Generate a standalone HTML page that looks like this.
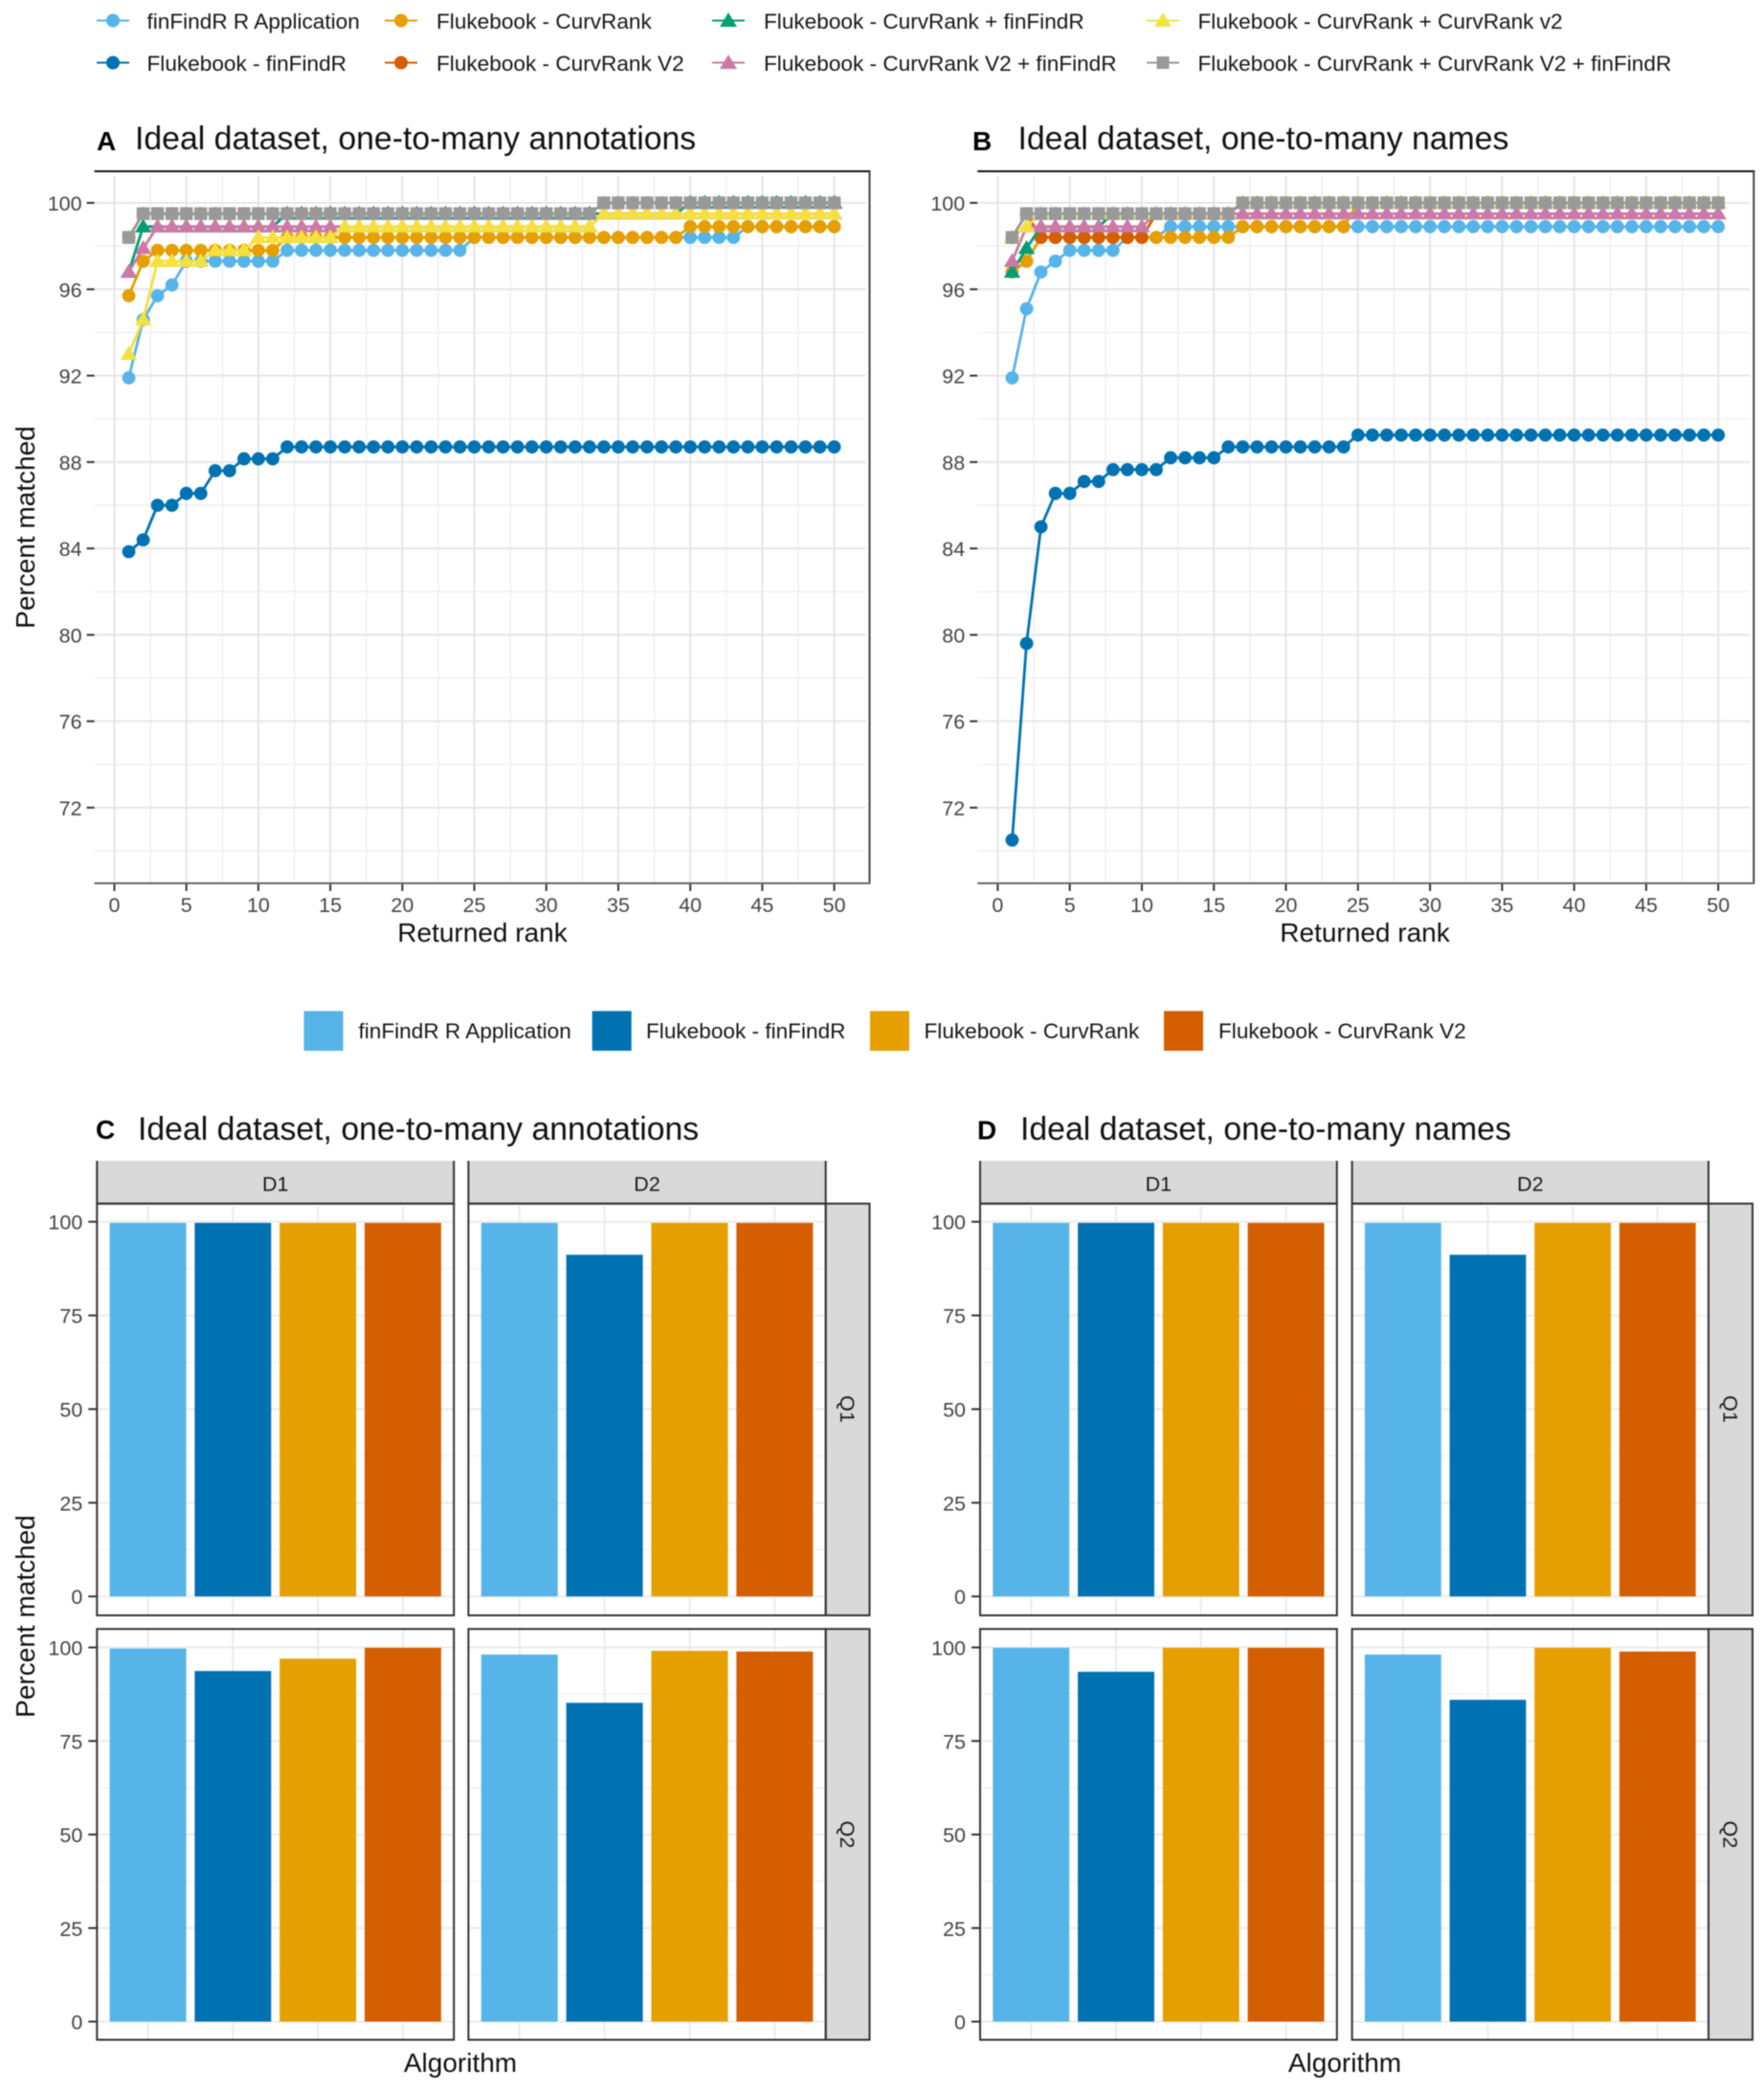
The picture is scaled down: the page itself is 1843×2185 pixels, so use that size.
<!DOCTYPE html>
<html lang="en">
<head>
<meta charset="utf-8">
<title>Ideal dataset match rates</title>
<style>
html,body{margin:0;padding:0;background:#fff;width:1843px;height:2185px;overflow:hidden}
svg{display:block;font-family:"Liberation Sans",sans-serif;filter:blur(0.45px)}
.lg{font-size:22.6px;fill:#161616}
.ttl{font-size:33.8px;fill:#111}
.tag{font-size:28px;font-weight:bold;fill:#000}
.axt{font-size:28px;fill:#111}
.tk{font-size:21.5px;fill:#444}
.st{font-size:21.5px;fill:#1a1a1a;text-anchor:middle}
</style>
</head>
<body>
<svg id="fig" xmlns="http://www.w3.org/2000/svg" width="1843" height="2185" viewBox="0 0 1843 2185">
<rect x="0" y="0" width="1843" height="2185" fill="#fff"/>
<g id="layerA"></g>
<g id="layerB"></g>
<g id="layerC"></g>
<g id="layerD"></g>

<g>
 <g>
  <line x1="101" x2="135" y1="21.5" y2="21.5" stroke="#56B4E9" stroke-width="2"/><circle cx="118" cy="21.5" r="7" fill="#56B4E9"/>
  <text class="lg" x="153.5" y="30">finFindR R Application</text></g>
 <g>
  <line x1="101" x2="135" y1="65.5" y2="65.5" stroke="#0072B2" stroke-width="2"/><circle cx="118" cy="65.5" r="7" fill="#0072B2"/>
  <text class="lg" x="153.5" y="74">Flukebook - finFindR</text></g>
 <g>
  <line x1="402" x2="436" y1="21.5" y2="21.5" stroke="#E69F00" stroke-width="2"/><circle cx="419" cy="21.5" r="7" fill="#E69F00"/>
  <text class="lg" x="456" y="30">Flukebook - CurvRank</text></g>
 <g>
  <line x1="402" x2="436" y1="65.5" y2="65.5" stroke="#D55E00" stroke-width="2"/><circle cx="419" cy="65.5" r="7" fill="#D55E00"/>
  <text class="lg" x="456" y="74">Flukebook - CurvRank V2</text></g>
 <g>
  <line x1="744" x2="778" y1="21.5" y2="21.5" stroke="#009E73" stroke-width="2"/><path d="M761 13 L770 28 L752 28 Z" fill="#009E73"/>
  <text class="lg" x="798" y="30">Flukebook - CurvRank + finFindR</text></g>
 <g>
  <line x1="744" x2="778" y1="65.5" y2="65.5" stroke="#CC79A7" stroke-width="2"/><path d="M761 57 L770 72 L752 72 Z" fill="#CC79A7"/>
  <text class="lg" x="798" y="74">Flukebook - CurvRank V2 + finFindR</text></g>
 <g>
  <line x1="1198" x2="1232" y1="21.5" y2="21.5" stroke="#F0E442" stroke-width="2"/><path d="M1215 13 L1224 28 L1206 28 Z" fill="#F0E442"/>
  <text class="lg" x="1251.5" y="30">Flukebook - CurvRank + CurvRank v2</text></g>
 <g>
  <line x1="1198" x2="1232" y1="65.5" y2="65.5" stroke="#999999" stroke-width="2"/><rect x="1208.5" y="59" width="13" height="13" fill="#999999"/>
  <text class="lg" x="1251.5" y="74">Flukebook - CurvRank + CurvRank V2 + finFindR</text></g>
</g>

<text class="tag" x="101" y="157">A</text>
<text class="ttl" x="141" y="156">Ideal dataset, one-to-many annotations</text>
<text class="tag" x="1016" y="157">B</text>
<text class="ttl" x="1063.5" y="156">Ideal dataset, one-to-many names</text>
<text class="tag" x="100" y="1190">C</text>
<text class="ttl" x="144" y="1191">Ideal dataset, one-to-many annotations</text>
<text class="tag" x="1021" y="1190.5">D</text>
<text class="ttl" x="1066" y="1191">Ideal dataset, one-to-many names</text>

<text class="axt" text-anchor="middle" transform="translate(36,551) rotate(-90)">Percent matched</text>
<text class="axt" text-anchor="middle" x="504" y="984">Returned rank</text>
<text class="axt" text-anchor="middle" x="1426" y="984">Returned rank</text>
<text class="axt" text-anchor="middle" transform="translate(36,1689) rotate(-90)">Percent matched</text>
<text class="axt" text-anchor="middle" x="481" y="2165">Algorithm</text>
<text class="axt" text-anchor="middle" x="1405" y="2165">Algorithm</text>

<g>
 <g><rect x="317.5" y="1056.5" width="41" height="41.5" fill="#56B4E9"/><text class="lg" x="374.5" y="1085">finFindR R Application</text></g>
 <g><rect x="618.7" y="1056.5" width="41" height="41.5" fill="#0072B2"/><text class="lg" x="675" y="1085">Flukebook - finFindR</text></g>
 <g><rect x="909" y="1056.5" width="41" height="41.5" fill="#E69F00"/><text class="lg" x="965.5" y="1085">Flukebook - CurvRank</text></g>
 <g><rect x="1216" y="1056.5" width="41" height="41.5" fill="#D55E00"/><text class="lg" x="1273" y="1085">Flukebook - CurvRank V2</text></g>
</g>
</svg>

<script>
/* ---- line chart data: returned rank categories and percent matched ---- */
const xTickLabels = [0,5,10,15,20,25,30,35,40,45,50];
const xMinorTicks = [2.5,7.5,12.5,17.5,22.5,27.5,32.5,37.5,42.5,47.5];
const yTickLabels = [72,76,80,84,88,92,96,100];
const yMinorTicks = [70,74,78,82,86,90,94,98];
const seriesNames = ['finfindr-r-application','flukebook-finfindr','flukebook-curvrank','flukebook-curvrank-v2','curvrank-finfindr','curvrank-v2-finfindr','curvrank-curvrank-v2','all-combined'];
const seriesColors = ['#56B4E9','#0072B2','#E69F00','#D55E00','#009E73','#CC79A7','#F5E03E','#999999'];
const seriesShapes = ['circle','circle','circle','circle','triangle','triangle','triangle','square'];

const appA = [91.9,94.6,95.7,96.2,97.3,97.3,97.3,97.3,97.3,97.3,97.3,97.8,97.8,97.8,97.8,97.8,97.8,97.8,97.8,97.8,97.8,97.8,97.8,97.8,98.4,98.4,98.4,98.4,98.4,98.4,98.4,98.4,98.4,98.4,98.4,98.4,98.4,98.4,98.4,98.4,98.4,98.4,98.4,98.9,98.9,98.9,98.9,98.9,98.9,98.9];
const finA = [83.85,84.4,86,86,86.55,86.55,87.6,87.6,88.15,88.15,88.15,88.7,88.7,88.7,88.7,88.7,88.7,88.7,88.7,88.7,88.7,88.7,88.7,88.7,88.7,88.7,88.7,88.7,88.7,88.7,88.7,88.7,88.7,88.7,88.7,88.7,88.7,88.7,88.7,88.7,88.7,88.7,88.7,88.7,88.7,88.7,88.7,88.7,88.7,88.7];
const crA = [95.7,97.3,97.8,97.8,97.8,97.8,97.8,97.8,97.8,97.8,97.8,98.4,98.4,98.4,98.4,98.4,98.4,98.4,98.4,98.4,98.4,98.4,98.4,98.4,98.4,98.4,98.4,98.4,98.4,98.4,98.4,98.4,98.4,98.4,98.4,98.4,98.4,98.4,98.4,98.9,98.9,98.9,98.9,98.9,98.9,98.9,98.9,98.9,98.9,98.9];
const crv2A = [98.4,99.5,99.5,99.5,99.5,99.5,99.5,99.5,99.5,99.5,99.5,99.5,99.5,99.5,99.5,99.5,99.5,99.5,99.5,99.5,99.5,99.5,99.5,99.5,99.5,99.5,99.5,99.5,99.5,99.5,99.5,99.5,99.5,100,100,100,100,100,100,100,100,100,100,100,100,100,100,100,100,100];
const crFinA = [96.8,98.9,98.9,98.9,98.9,98.9,98.9,98.9,98.9,98.9,98.9,99.5,99.5,99.5,99.5,99.5,99.5,99.5,99.5,99.5,99.5,99.5,99.5,99.5,99.5,99.5,99.5,99.5,99.5,99.5,99.5,99.5,99.5,99.5,99.5,99.5,99.5,99.5,99.5,100,100,100,100,100,100,100,100,100,100,100];
const v2FinA = [96.8,97.9,98.9,98.9,98.9,98.9,98.9,98.9,98.9,98.9,98.9,98.9,98.9,98.9,98.9,98.9,98.9,98.9,98.9,98.9,98.9,98.9,98.9,98.9,98.9,98.9,98.9,98.9,98.9,98.9,98.9,98.9,98.9,99.5,99.5,99.5,99.5,99.5,99.5,99.5,99.5,99.5,99.5,99.5,99.5,99.5,99.5,99.5,99.5,99.5];
const crCrA = [93,94.6,97.3,97.3,97.3,97.3,97.8,97.8,97.8,98.4,98.4,98.4,98.4,98.4,98.4,98.9,98.9,98.9,98.9,98.9,98.9,98.9,98.9,98.9,98.9,98.9,98.9,98.9,98.9,98.9,98.9,98.9,98.9,99.5,99.5,99.5,99.5,99.5,99.5,99.5,99.5,99.5,99.5,99.5,99.5,99.5,99.5,99.5,99.5,99.5];
const allA = [98.4,99.5,99.5,99.5,99.5,99.5,99.5,99.5,99.5,99.5,99.5,99.5,99.5,99.5,99.5,99.5,99.5,99.5,99.5,99.5,99.5,99.5,99.5,99.5,99.5,99.5,99.5,99.5,99.5,99.5,99.5,99.5,99.5,100,100,100,100,100,100,100,100,100,100,100,100,100,100,100,100,100];

const appB = [91.9,95.1,96.8,97.3,97.8,97.8,97.8,97.8,98.4,98.4,98.4,98.9,98.9,98.9,98.9,98.9,98.9,98.9,98.9,98.9,98.9,98.9,98.9,98.9,98.9,98.9,98.9,98.9,98.9,98.9,98.9,98.9,98.9,98.9,98.9,98.9,98.9,98.9,98.9,98.9,98.9,98.9,98.9,98.9,98.9,98.9,98.9,98.9,98.9,98.9];
const finB = [70.5,79.6,85,86.55,86.55,87.1,87.1,87.65,87.65,87.65,87.65,88.2,88.2,88.2,88.2,88.7,88.7,88.7,88.7,88.7,88.7,88.7,88.7,88.7,89.25,89.25,89.25,89.25,89.25,89.25,89.25,89.25,89.25,89.25,89.25,89.25,89.25,89.25,89.25,89.25,89.25,89.25,89.25,89.25,89.25,89.25,89.25,89.25,89.25,89.25];
const crB = [96.8,97.3,98.4,98.4,98.4,98.4,98.4,98.4,98.4,98.4,98.4,98.4,98.4,98.4,98.4,98.4,98.9,98.9,98.9,98.9,98.9,98.9,98.9,98.9,100,100,100,100,100,100,100,100,100,100,100,100,100,100,100,100,100,100,100,100,100,100,100,100,100,100];
const crv2B = [98.4,99.5,98.4,98.4,98.4,98.4,98.4,98.4,98.4,98.4,99.5,99.5,99.5,99.5,99.5,99.5,100,100,100,100,100,100,100,100,100,100,100,100,100,100,100,100,100,100,100,100,100,100,100,100,100,100,100,100,100,100,100,100,100,100];
const crFinB = [96.8,97.9,98.9,98.9,98.9,98.9,98.9,99.5,99.5,99.5,99.5,99.5,99.5,99.5,99.5,99.5,100,100,100,100,100,100,100,100,100,100,100,100,100,100,100,100,100,100,100,100,100,100,100,100,100,100,100,100,100,100,100,100,100,100];
const v2FinB = [97.3,98.9,98.9,98.9,98.9,98.9,98.9,98.9,98.9,98.9,99.5,99.5,99.5,99.5,99.5,99.5,99.5,99.5,99.5,99.5,99.5,99.5,99.5,99.5,99.5,99.5,99.5,99.5,99.5,99.5,99.5,99.5,99.5,99.5,99.5,99.5,99.5,99.5,99.5,99.5,99.5,99.5,99.5,99.5,99.5,99.5,99.5,99.5,99.5,99.5];
const crCrB = [98.4,98.9,99.5,99.5,99.5,99.5,99.5,99.5,99.5,99.5,99.5,99.5,99.5,99.5,99.5,99.5,100,100,100,100,100,100,100,100,100,100,100,100,100,100,100,100,100,100,100,100,100,100,100,100,100,100,100,100,100,100,100,100,100,100];
const allB = [98.4,99.5,99.5,99.5,99.5,99.5,99.5,99.5,99.5,99.5,99.5,99.5,99.5,99.5,99.5,99.5,100,100,100,100,100,100,100,100,100,100,100,100,100,100,100,100,100,100,100,100,100,100,100,100,100,100,100,100,100,100,100,100,100,100];

/* ---- bar chart data ---- */
const algorithms = ['finfindr-r-application','flukebook-finfindr','flukebook-curvrank','flukebook-curvrank-v2'];
const barColors = ['#56B4E9','#0072B2','#E69F00','#D55E00'];
const barTickLabels = [0,25,50,75,100];
const barMinorTicks = [12.5,37.5,62.5,87.5];
const cD1Q1 = [99.7,99.7,99.7,99.7];
const cD2Q1 = [99.7,91.2,99.7,99.7];
const cD1Q2 = [99.7,93.7,97,99.9];
const cD2Q2 = [98.1,85.2,99.1,98.9];
const dD1Q1 = [99.7,99.7,99.7,99.7];
const dD2Q1 = [99.7,91.2,99.7,99.7];
const dD1Q2 = [99.9,93.5,99.9,99.9];
const dD2Q2 = [98.1,86,99.9,98.9];

const NS = 'http://www.w3.org/2000/svg';
function mk(parent, tag, attrs, txt) {
  const el = document.createElementNS(NS, tag);
  for (const k in attrs) el.setAttribute(k, attrs[k]);
  if (txt !== undefined) el.textContent = txt;
  parent.appendChild(el);
  return el;
}

function drawLinePanel(layer, key, left, right, x0, x50, allSeries) {
  const top = 179, bottom = 923;
  const xs = v => x0 + (x50 - x0) * v / 50;
  const ys = v => 212 + (100 - v) * 22.57;
  xMinorTicks.forEach(v => {
    const g = mk(layer, 'line', {x1: xs(v), x2: xs(v), y1: top + 4, y2: bottom, stroke: '#ececec', 'stroke-width': 1.2});
    
    
  });
  yMinorTicks.forEach(v => {
    const g = mk(layer, 'line', {x1: left, x2: right - 4, y1: ys(v), y2: ys(v), stroke: '#ececec', 'stroke-width': 1.2});
    
    
  });
  xTickLabels.forEach(v => {
    const g = mk(layer, 'line', {x1: xs(v), x2: xs(v), y1: top + 4, y2: bottom, stroke: '#e6e6e6', 'stroke-width': 2});
    
    
    const t = mk(layer, 'line', {x1: xs(v), x2: xs(v), y1: bottom, y2: bottom + 8, stroke: '#333', 'stroke-width': 2});
    
    
    const l = mk(layer, 'text', {class: 'tk', x: xs(v), y: 953, 'text-anchor': 'middle'}, String(v));
    
    
  });
  yTickLabels.forEach(v => {
    const g = mk(layer, 'line', {x1: left, x2: right - 4, y1: ys(v), y2: ys(v), stroke: '#e6e6e6', 'stroke-width': 2});
    
    
    const t = mk(layer, 'line', {x1: left - 8, x2: left, y1: ys(v), y2: ys(v), stroke: '#333', 'stroke-width': 2});
    
    
    const l = mk(layer, 'text', {class: 'tk', x: left - 13, y: ys(v) + 8, 'text-anchor': 'end'}, String(v));
    
    
  });
  const bt = mk(layer, 'line', {x1: left, x2: right + 1, y1: top, y2: top, stroke: '#111', 'stroke-width': 2});
  
  
  const br = mk(layer, 'line', {x1: right, x2: right, y1: top, y2: bottom, stroke: '#444', 'stroke-width': 2});
  
  
  const bb = mk(layer, 'line', {x1: left, x2: right + 1, y1: bottom, y2: bottom, stroke: '#666', 'stroke-width': 2});
  
  

  allSeries.forEach((vals, s) => {
    const grp = mk(layer, 'g', {});
    
    
    const pts = vals.map((v, i) => xs(i + 1).toFixed(1) + ',' + ys(v).toFixed(1)).join(' ');
    const ln = mk(grp, 'polyline', {points: pts, fill: 'none', stroke: seriesColors[s], 'stroke-width': 2.8});
    
    
    vals.forEach((v, i) => {
      const cx = xs(i + 1), cy = ys(v);
      let m;
      if (seriesShapes[s] === 'circle') {
        m = mk(grp, 'circle', {cx: cx, cy: cy, r: 6.9, fill: seriesColors[s]});
      } else if (seriesShapes[s] === 'square') {
        m = mk(grp, 'rect', {x: cx - 6.7, y: cy - 6.7, width: 13.4, height: 13.4, fill: seriesColors[s]});
      } else {
        m = mk(grp, 'path', {d: 'M' + cx + ' ' + (cy - 8.5) + 'L' + (cx + 8.7) + ' ' + (cy + 6) + 'L' + (cx - 8.7) + ' ' + (cy + 6) + 'Z', fill: seriesColors[s]});
      }
      
      
    });
  });
}

function drawFacet(layer, left, right, top, bottom, zero, hundred, vals, showAxis, facet) {
  const ys = v => zero + (hundred - zero) * v / 100;
  const band = (right - left) / 4.2;
  const xs = i => left + band * (0.6 + i);
  const g = mk(layer, 'g', {});
  
  
  barMinorTicks.forEach(v => {
    const ln = mk(g, 'line', {x1: left, x2: right, y1: ys(v), y2: ys(v), stroke: '#f0f0f0', 'stroke-width': 1.2});
    
    
  });
  barTickLabels.forEach(v => {
    const ln = mk(g, 'line', {x1: left, x2: right, y1: ys(v), y2: ys(v), stroke: '#ebebeb', 'stroke-width': 2});
    
    
    if (showAxis) {
      const t = mk(g, 'line', {x1: left - 9, x2: left, y1: ys(v), y2: ys(v), stroke: '#333', 'stroke-width': 2});
      
      
      const l = mk(g, 'text', {class: 'tk', x: left - 15, y: ys(v) + 8, 'text-anchor': 'end'}, String(v));
      
      
    }
  });
  algorithms.forEach((name, i) => {
    const ln = mk(g, 'line', {x1: xs(i), x2: xs(i), y1: top, y2: bottom, stroke: '#ebebeb', 'stroke-width': 2});
    
    
  });
  vals.forEach((v, i) => {
    const r = mk(g, 'rect', {x: xs(i) - band * 0.45, y: ys(v), width: band * 0.9, height: zero - ys(v), fill: barColors[i]});
    
    
  });
  const b = mk(g, 'rect', {x: left, y: top, width: right - left, height: bottom - top, fill: 'none', stroke: '#333', 'stroke-width': 2});
  
  
}

function drawBarPanel(layer, key, l1, r1, l2, r2, sr, q1a, q1b, q2a, q2b) {
  const Q1 = {top: 1257.7, bottom: 1688, zero: 1668.2, hundred: 1276.7};
  const Q2 = {top: 1702.2, bottom: 2131.5, zero: 2112.5, hundred: 1721.5};
  const stripTop = 1213;
  [[l1, r1, 'D1'], [l2, r2, 'D2']].forEach(s => {
    const st = mk(layer, 'rect', {x: s[0], y: stripTop, width: s[1] - s[0], height: Q1.top - stripTop, fill: '#d9d9d9'});
    
    
    const e1 = mk(layer, 'path', {d: 'M' + s[0] + ' ' + stripTop + 'V' + Q1.top + 'H' + s[1] + 'V' + stripTop, fill: 'none', stroke: '#333', 'stroke-width': 2});
    
    
    const t = mk(layer, 'text', {class: 'st', x: (s[0] + s[1]) / 2, y: 1244.5}, s[2]);
    
    
  });
  [[Q1, 'Q1'], [Q2, 'Q2']].forEach(s => {
    const st = mk(layer, 'rect', {x: r2, y: s[0].top, width: sr - r2, height: s[0].bottom - s[0].top, fill: '#d9d9d9', stroke: '#333', 'stroke-width': 2});
    
    
    const cx = (r2 + sr) / 2 - 7.5, cy = (s[0].zero + s[0].hundred) / 2;
    const t = mk(layer, 'text', {class: 'st', transform: 'translate(' + cx + ',' + cy + ') rotate(90)'}, s[1]);
    
    
  });
  drawFacet(layer, l1, r1, Q1.top, Q1.bottom, Q1.zero, Q1.hundred, q1a, true, key + '-d1-q1');
  drawFacet(layer, l2, r2, Q1.top, Q1.bottom, Q1.zero, Q1.hundred, q1b, false, key + '-d2-q1');
  drawFacet(layer, l1, r1, Q2.top, Q2.bottom, Q2.zero, Q2.hundred, q2a, true, key + '-d1-q2');
  drawFacet(layer, l2, r2, Q2.top, Q2.bottom, Q2.zero, Q2.hundred, q2b, false, key + '-d2-q2');
}

drawLinePanel(document.getElementById('layerA'), 'a', 98.6, 908.5, 119.5, 871.6, [appA, finA, crA, crv2A, crFinA, v2FinA, crCrA, allA]);
drawLinePanel(document.getElementById('layerB'), 'b', 1021.2, 1832.3, 1042.4, 1795.2, [appB, finB, crB, crv2B, crFinB, v2FinB, crCrB, allB]);
drawBarPanel(document.getElementById('layerC'), 'c', 101.3, 474.2, 489.4, 862.7, 908.5, cD1Q1, cD2Q1, cD1Q2, cD2Q2);
drawBarPanel(document.getElementById('layerD'), 'd', 1024, 1396.8, 1412.6, 1785, 1831, dD1Q1, dD2Q1, dD1Q2, dD2Q2);
</script>
</body>
</html>
